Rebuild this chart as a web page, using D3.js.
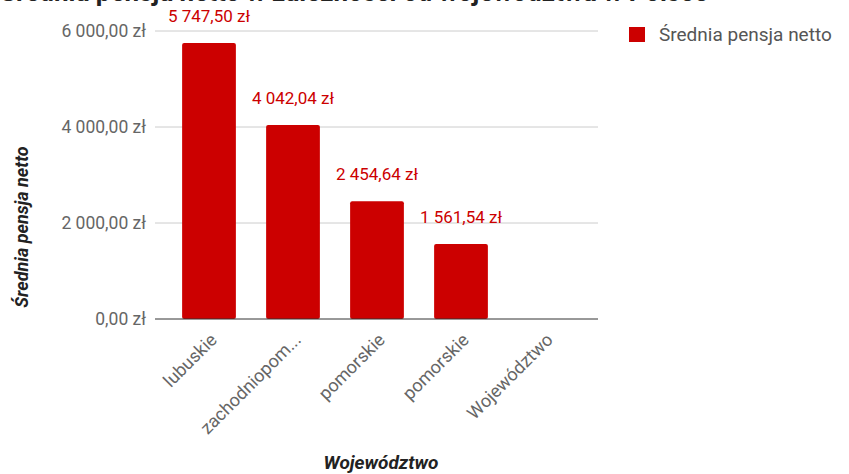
<!DOCTYPE html>
<html>
<head>
	<meta charset="utf-8">
	<title>Średnia pensja netto</title>
	<style>
		body { margin: 0; background: #fff; }
		svg { font-family: Roboto, "Noto Sans", sans-serif; }
	</style>
</head>
<body>
	<svg id="chart" width="849" height="474"></svg>
	<script src="https://cdn.jsdelivr.net/npm/d3@7/dist/d3.min.js"></script>
	<script>
		// data
		var categories = ["lubuskie", "zachodniopom...", "pomorskie", "pomorskie ", "Województwo"];
		var values = [5747.50, 4042.04, 2454.64, 1561.54, null];
		var yTicks = [0, 2000, 4000, 6000];
		var seriesName = "Średnia pensja netto";

		var svg = d3.select("#chart");
		var red = "#cc0000";

		var fmt = function (v) {
			// polish money format: 5 747,50 zł
			var s = v.toFixed(2).split(".");
			return s[0].replace(/\B(?=(\d{3})+(?!\d))/g, " ") + "," + s[1] + " zł";
		};

		var plotLeft = 155, plotRight = 598;

		var x = d3.scaleBand()
			.domain(categories)
			.range([167, 587])
			.paddingInner(0.36)
			.paddingOuter(0.18);

		var y = d3.scaleLinear()
			.domain([0, 6000])
			.range([319, 31]);

		// title, mostly cut off at the top edge
		svg.append("text")
			.attr("x", 0)
			.attr("y", 1)
			.attr("font-size", 26)
			.attr("font-weight", "bold")
			.attr("fill", "#222")
			.text("Średnia pensja netto w zależności od województwa w Polsce");

		// gridlines
		svg.append("g")
			.selectAll("line")
			.data(yTicks.filter(function (d) { return d > 0; }))
			.enter()
			.append("line")
			.attr("x1", plotLeft)
			.attr("x2", plotRight)
			.attr("y1", function (d) { return y(d); })
			.attr("y2", function (d) { return y(d); })
			.style("stroke", "#cccccc")
			.style("stroke-width", 1);

		// y tick labels
		svg.append("g")
			.selectAll("text")
			.data(yTicks)
			.enter()
			.append("text")
			.attr("x", 146)
			.attr("y", function (d) { return y(d); })
			.attr("dy", "0.35em")
			.attr("text-anchor", "end")
			.attr("font-size", 17.5)
			.attr("fill", "#666")
			.text(function (d) { return fmt(d); });

		// bars
		var data = categories.map(function (c, i) { return { cat: c, val: values[i] }; })
			.filter(function (d) { return d.val != null; });

		svg.append("g")
			.selectAll("rect")
			.data(data)
			.enter()
			.append("rect")
			.attr("x", function (d) { return x(d.cat); })
			.attr("width", x.bandwidth())
			.attr("y", function (d) { return y(d.val); })
			.attr("height", function (d) { return y(0) - y(d.val); })
			.attr("rx", 2)
			.style("fill", red);

		// value labels
		svg.append("g")
			.selectAll("text")
			.data(data)
			.enter()
			.append("text")
			.attr("x", function (d) { return x(d.cat) + x.bandwidth() / 2; })
			.attr("y", function (d) { return y(d.val) - 21; })
			.attr("text-anchor", "middle")
			.attr("font-size", 17)
			.attr("fill", red)
			.text(function (d) { return fmt(d.val); });

		// baseline
		svg.append("line")
			.attr("x1", plotLeft)
			.attr("x2", plotRight)
			.attr("y1", y(0))
			.attr("y2", y(0))
			.style("stroke", "#333")
			.style("stroke-width", 1);

		// x labels rotated
		svg.append("g")
			.selectAll("text")
			.data(categories)
			.enter()
			.append("text")
			.attr("transform", function (d) {
				return "translate(" + (x(d) + x.bandwidth() / 2 + 9) + "," + 341 + ") rotate(-45)";
			})
			.attr("text-anchor", "end")
			.attr("font-size", 18)
			.attr("fill", "#666")
			.text(function (d) { return d.trim(); });

		// axis titles
		svg.append("text")
			.attr("transform", "translate(28,227) rotate(-90)")
			.attr("text-anchor", "middle")
			.attr("font-size", 18)
			.attr("font-weight", "bold")
			.attr("font-style", "italic")
			.attr("fill", "#222")
			.text(seriesName);

		svg.append("text")
			.attr("x", 381)
			.attr("y", 469)
			.attr("text-anchor", "middle")
			.attr("font-size", 19)
			.attr("font-weight", "bold")
			.attr("font-style", "italic")
			.attr("fill", "#222")
			.text("Województwo");

		// legend
		var legend = svg.append("g").attr("transform", "translate(629,27)");
		legend.append("rect")
			.attr("width", 16)
			.attr("height", 15)
			.style("fill", red);
		legend.append("text")
			.attr("x", 30)
			.attr("y", 7.5)
			.attr("dy", "0.35em")
			.attr("font-size", 19)
			.attr("fill", "#555")
			.text(seriesName);
	</script>
</body>
</html>
